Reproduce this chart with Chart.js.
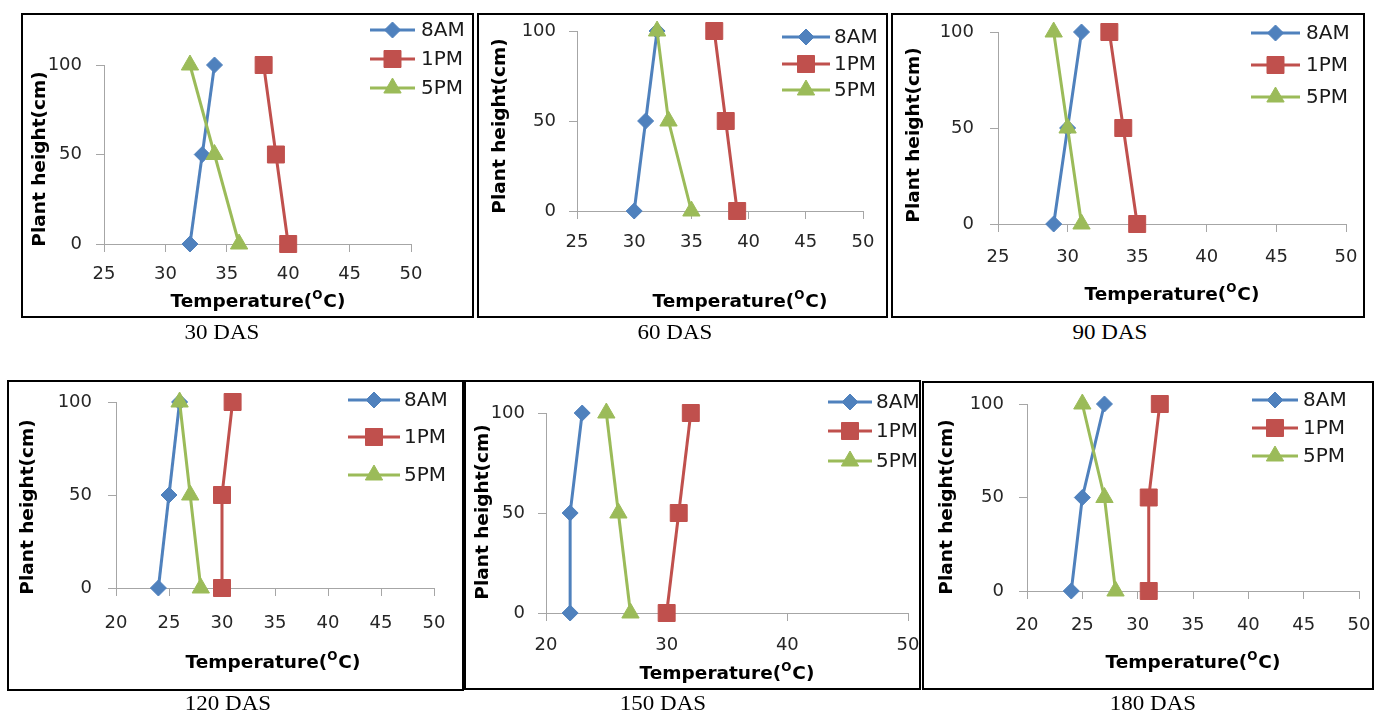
<!DOCTYPE html>
<html>
<head>
<meta charset="utf-8">
<script src="https://cdn.jsdelivr.net/npm/chart.js@4.4.0/dist/chart.umd.min.js"></script>
<style>
  body { margin: 0; background: #fff; width: 1374px; height: 718px; overflow: hidden; position: relative; }
  .box { position: absolute; }
  .box canvas { position: absolute; left: 0; top: 0; }
  .frame { position: absolute; left: 0; top: 0; right: 0; bottom: 0; border: 2px solid #000; box-sizing: border-box; pointer-events: none; }
  .cap { position: absolute; font-family: "Liberation Serif", "Times New Roman", serif; font-size: 20px; color: #000;
         transform: translate(-50%, -50%) scaleX(1.15); white-space: nowrap; }
</style>
</head>
<body>
<script>
// Plant height levels (cm) and the three observation times
const heights = [0, 50, 100];
const seriesNames = ['8AM', '1PM', '5PM'];
const captions = ['30 DAS', '60 DAS', '90 DAS', '120 DAS', '150 DAS', '180 DAS'];

// Temperature (°C) at heights 0, 50, 100 cm
const das30_8am = [32, 33, 34];
const das30_1pm = [40, 39, 38];
const das30_5pm = [36, 34, 32];

const das60_8am = [30, 31, 32];
const das60_1pm = [39, 38, 37];
const das60_5pm = [35, 33, 32];

const das90_8am = [29, 30, 31];
const das90_1pm = [35, 34, 33];
const das90_5pm = [31, 30, 29];

const das120_8am = [24, 25, 26];
const das120_1pm = [30, 30, 31];
const das120_5pm = [28, 27, 26];

const das150_8am = [22, 22, 23];
const das150_1pm = [30, 31, 32];
const das150_5pm = [27, 26, 25];

const das180_8am = [24, 25, 27];
const das180_1pm = [31, 31, 32];
const das180_5pm = [28, 27, 25];

// x axis ranges per panel
const xMins = [25, 25, 25, 20, 20, 20];
const xMaxs = [50, 50, 50, 50, 50, 50];
const xSteps = [5, 5, 5, 5, 10, 5];
const yMax = 100;
const yStep = 50;

const panelSeries = [
    [das30_8am, das30_1pm, das30_5pm],
    [das60_8am, das60_1pm, das60_5pm],
    [das90_8am, das90_1pm, das90_5pm],
    [das120_8am, das120_1pm, das120_5pm],
    [das150_8am, das150_1pm, das150_5pm],
    [das180_8am, das180_1pm, das180_5pm]
];

// Layout, page pixels
const layouts = [
    { box: [21, 13, 474, 318], plot: [104, 65, 411, 244], yPad: 14, xPad: 12, yTitle: [40, 159], xTitle: [258, 302], leg: [370, 415, 421], rows: [30, 59, 88], cap: [222, 332] },
    { box: [477, 13, 888, 318], plot: [577, 31, 863, 211], yPad: 13, xPad: 13, yTitle: [500, 126], xTitle: [740, 302], leg: [782, 830, 834], rows: [37, 64, 90], cap: [675, 332] },
    { box: [891, 13, 1365, 318], plot: [998, 32, 1346, 224], yPad: 16, xPad: 15, yTitle: [914, 135], xTitle: [1172, 295], leg: [1251, 1300, 1306], rows: [33, 65, 97], cap: [1110, 332] },
    { box: [7, 380, 464, 691], plot: [116, 402, 434, 588], yPad: 16, xPad: 17, yTitle: [28, 507], xTitle: [273, 663], leg: [348, 400, 404], rows: [400, 437, 475], cap: [228, 703] },
    { box: [464, 380, 921, 690], plot: [546, 413, 910, 613], yPad: 13, xPad: 14, yTitle: [483, 512], xTitle: [727, 674], leg: [828, 872, 876], rows: [402, 431, 461], cap: [663, 703] },
    { box: [922, 381, 1374, 690], plot: [1027, 404, 1359, 591], yPad: 15, xPad: 16, yTitle: [947, 507], xTitle: [1193, 663], leg: [1252, 1298, 1303], rows: [400, 428, 456], cap: [1153, 703] }
];

const seriesStyles = [
    { color: '#4F81BD', pointStyle: 'rectRot', radius: 8, order: 3 },
    { color: '#C0504D', pointStyle: 'rect', radius: 12, order: 2 },
    { color: '#9BBB59', pointStyle: 'triangle', radius: 10, order: 1 }
];

const axisColor = '#a6a6a6';
const tickColor = '#262626';
const tickLen = 8;
const yAxisW = 60;
const xAxisH = 40;

Chart.defaults.font.family = 'DejaVu Sans';
Chart.defaults.font.size = 18;

// Titles and legend drawn on top of the chart
const decorPlugin = {
    id: 'decor',
    afterDraw(chart, args, o) {
        const ctx = chart.ctx;
        ctx.save();
        ctx.fillStyle = '#000';
        ctx.font = 'bold 18.5px "DejaVu Sans"';
        ctx.textAlign = 'center';
        ctx.textBaseline = 'middle';
        ctx.translate(o.yTitle[0], o.yTitle[1]);
        ctx.rotate(-Math.PI / 2);
        ctx.fillText('Plant height(cm)', 0, 0);
        ctx.restore();

        // x title with superscript O
        ctx.save();
        ctx.fillStyle = '#000';
        ctx.textBaseline = 'middle';
        ctx.textAlign = 'left';
        const big = 'bold 18.5px "DejaVu Sans"', small = 'bold 12px "DejaVu Sans"';
        ctx.font = big;
        const w1 = ctx.measureText('Temperature(').width;
        const w3 = ctx.measureText('C)').width;
        ctx.font = small;
        const w2 = ctx.measureText('O').width + 1;
        let x = o.xTitle[0] - (w1 + w2 + w3) / 2;
        const y = o.xTitle[1];
        ctx.font = big;
        ctx.fillText('Temperature(', x, y);
        x += w1;
        ctx.font = small;
        ctx.fillText('O', x, y - 6);
        x += w2;
        ctx.font = big;
        ctx.fillText('C)', x, y);
        ctx.restore();

        // legend
        chart.data.datasets.forEach((ds, i) => {
            const ly = o.rows[i];
            ctx.save();
            ctx.strokeStyle = ds.borderColor;
            ctx.lineWidth = 3;
            ctx.beginPath();
            ctx.moveTo(o.leg[0], ly);
            ctx.lineTo(o.leg[1], ly);
            ctx.stroke();
            ctx.fillStyle = ds.backgroundColor;
            ctx.lineWidth = 1;
            Chart.helpers.drawPoint(ctx, { pointStyle: ds.pointStyle, radius: ds.pointRadius, rotation: 0, borderWidth: 1 },
                (o.leg[0] + o.leg[1]) / 2, ly);
            ctx.fillStyle = '#1a1a1a';
            ctx.font = '20px "DejaVu Sans"';
            ctx.textAlign = 'left';
            ctx.textBaseline = 'middle';
            ctx.fillText(ds.label, o.leg[2], ly + 1);
            ctx.restore();
        });
    }
};

function createPanel(p) {
    const L = layouts[p];
    const [bl, bt, br, bb] = L.box;
    const w = br - bl, h = bb - bt;

    const wrap = document.createElement('div');
    wrap.className = 'box';
    wrap.style.left = bl + 'px';
    wrap.style.top = bt + 'px';
    wrap.style.width = w + 'px';
    wrap.style.height = h + 'px';
    const canvas = document.createElement('canvas');
    canvas.width = w;
    canvas.height = h;
    wrap.appendChild(canvas);
    const frame = document.createElement('div');
    frame.className = 'frame';
    wrap.appendChild(frame);
    document.body.appendChild(wrap);

    const cap = document.createElement('div');
    cap.className = 'cap';
    cap.style.left = L.cap[0] + 'px';
    cap.style.top = L.cap[1] + 'px';
    cap.textContent = captions[p];
    document.body.appendChild(cap);

    const datasets = seriesNames.map((name, i) => ({
        label: name,
        data: heights.map((hgt, k) => ({ x: panelSeries[p][i][k], y: hgt })),
        showLine: true,
        borderColor: seriesStyles[i].color,
        backgroundColor: seriesStyles[i].color,
        borderWidth: 3,
        pointStyle: seriesStyles[i].pointStyle,
        pointRadius: seriesStyles[i].radius,
        pointBorderWidth: 1,
        order: seriesStyles[i].order,
        clip: false
    }));

    new Chart(canvas, {
        type: 'scatter',
        data: { datasets },
        options: {
            responsive: false,
            animation: false,
            devicePixelRatio: 1,
            layout: {
                padding: {
                    left: L.plot[0] - bl - yAxisW,
                    top: L.plot[1] - bt,
                    right: br - L.plot[2],
                    bottom: bb - L.plot[3] - xAxisH
                }
            },
            plugins: {
                legend: { display: false },
                tooltip: { enabled: false },
                decor: {
                    yTitle: [L.yTitle[0] - bl, L.yTitle[1] - bt],
                    xTitle: [L.xTitle[0] - bl, L.xTitle[1] - bt],
                    leg: L.leg.map(v => v - bl),
                    rows: L.rows.map(v => v - bt)
                }
            },
            scales: {
                x: {
                    type: 'linear',
                    min: xMins[p],
                    max: xMaxs[p],
                    ticks: { stepSize: xSteps[p], color: tickColor, font: { family: 'DejaVu Sans', size: 18 }, padding: L.xPad, maxRotation: 0 },
                    grid: { drawOnChartArea: false, drawTicks: true, tickLength: tickLen, color: axisColor },
                    border: { color: axisColor, width: 1 },
                    afterFit(s) { s.height = xAxisH; s.paddingLeft = 0; s.paddingRight = 0; }
                },
                y: {
                    type: 'linear',
                    min: 0,
                    max: yMax,
                    ticks: { stepSize: yStep, color: tickColor, font: { family: 'DejaVu Sans', size: 18 }, padding: L.yPad },
                    grid: { drawOnChartArea: false, drawTicks: true, tickLength: tickLen, color: axisColor },
                    border: { color: axisColor, width: 1 },
                    afterFit(s) { s.width = yAxisW; s.paddingTop = 0; s.paddingBottom = 0; }
                }
            }
        },
        plugins: [decorPlugin]
    });
}

for (let p = 0; p < layouts.length; p++) createPanel(p);
</script>
</body>
</html>
